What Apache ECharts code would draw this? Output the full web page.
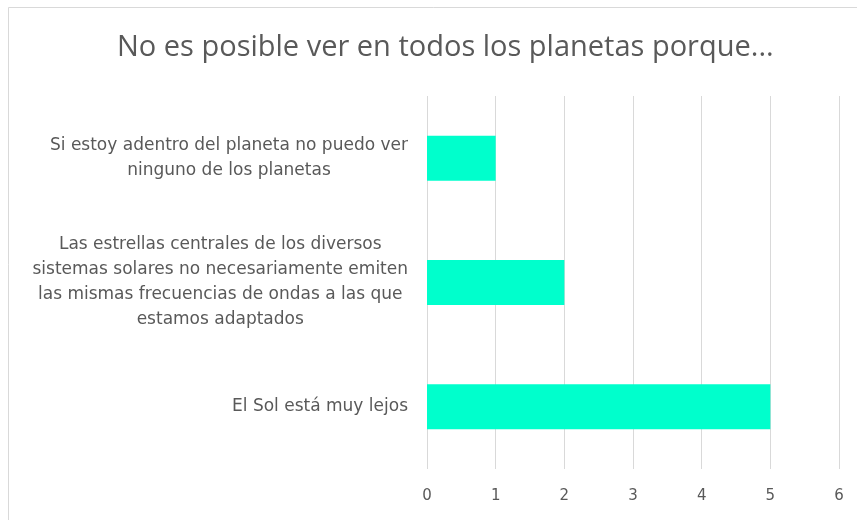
<!DOCTYPE html>
<html>
<head>
<meta charset="utf-8">
<script src="https://cdn.jsdelivr.net/npm/echarts@6/dist/echarts.min.js"></script>
<style>
  html, body { margin: 0; padding: 0; background: #fff; }
  #chart { width: 857px; height: 520px; }
</style>
</head>
<body>
<div id="chart"></div>
<script>
// Answers (top to bottom) and how many times each was chosen
const titleText = 'No es posible ver en todos los planetas porque...';
const categories = [
  'Si estoy adentro del planeta no puedo ver\nninguno de los planetas',
  'Las estrellas centrales de los diversos\nsistemas solares no necesariamente emiten\nlas mismas frecuencias de ondas a las que\nestamos adaptados',
  'El Sol está muy lejos'
];
const counts = [1, 2, 5];
const xTicks = [0, 1, 2, 3, 4, 5, 6];

const chart = echarts.init(document.getElementById('chart'), null, { renderer: 'canvas' });

chart.setOption({
  backgroundColor: '#ffffff',
  animation: false,
  graphic: [{
    type: 'rect',
    shape: { x: 8.5, y: 7.5, width: 900, height: 600 },
    style: { fill: 'none', stroke: '#d9d9d9', lineWidth: 1 },
    silent: true
  }],
  title: {
    text: titleText,
    left: 112,
    top: 28,
    textStyle: {
      fontFamily: 'Open Sans',
      fontWeight: 'normal',
      fontSize: 29,
      color: '#595959'
    }
  },
  grid: { left: 427, right: 18, top: 96, bottom: 51, containLabel: false },
  xAxis: {
    type: 'value',
    min: xTicks[0],
    max: xTicks[xTicks.length - 1],
    interval: 1,
    axisLine: { show: false },
    axisTick: { show: false },
    splitLine: { show: true, lineStyle: { color: '#d9d9d9', width: 1 } },
    axisLabel: {
      margin: 20,
      fontFamily: 'DejaVu Sans',
      fontSize: 15,
      color: '#595959'
    }
  },
  yAxis: {
    type: 'category',
    inverse: true,
    data: categories,
    axisLine: { show: false },
    axisTick: { show: false },
    splitLine: { show: false },
    axisLabel: {
      margin: 19,
      align: 'right',
      formatter: function (v) {
        return v.split('\n').map(function (l) { return '{c|' + l + '}'; }).join('\n');
      },
      rich: {
        c: {
          align: 'center',
          fontFamily: 'DejaVu Sans',
          fontSize: 17,
          lineHeight: 25,
          color: '#595959'
        }
      }
    }
  },
  series: [{
    type: 'bar',
    data: counts,
    barWidth: 45,
    itemStyle: { color: '#00ffcc' },
    silent: true
  }]
});
</script>
</body>
</html>
